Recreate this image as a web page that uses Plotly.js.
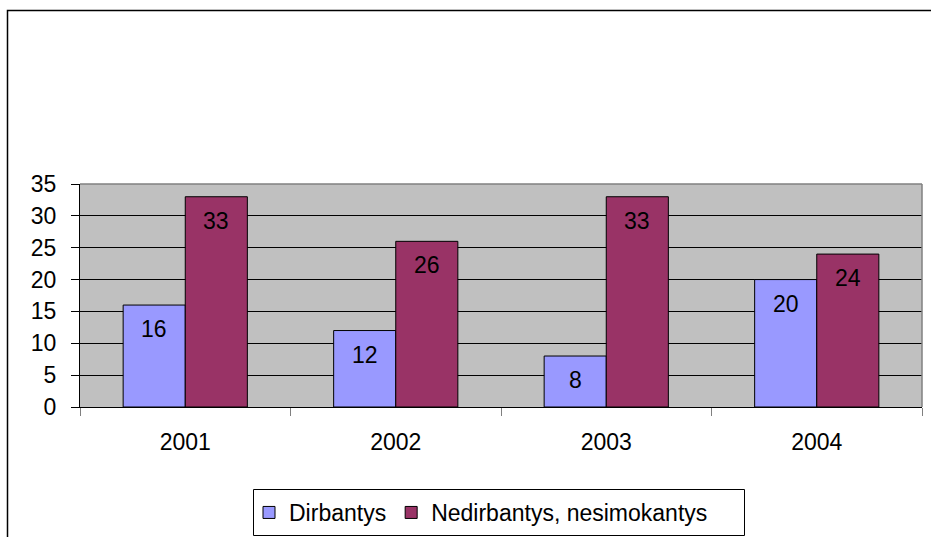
<!DOCTYPE html>
<html>
<head>
<meta charset="utf-8">
<script src="https://cdn.plot.ly/plotly-3.0.1.min.js"></script>
<style>
html,body{margin:0;padding:0;background:#fff;}
#chart{width:931px;height:537px;}
</style>
</head>
<body>
<div id="chart"></div>
<script>
const years = ['2001', '2002', '2003', '2004'];
const dirbantys = [16, 12, 8, 20];
const nedirbantys = [33, 26, 33, 24];
const seriesNames = ['Dirbantys', 'Nedirbantys, nesimokantys'];
const yTicks = [0, 5, 10, 15, 20, 25, 30, 35];

const FONT = 'Liberation Sans, Arial, sans-serif';
const FS = 23;
const W = 931, H = 537;
const colors = ['#9999FF', '#993366'];
const seriesVals = [dirbantys, nedirbantys];

const traces = seriesVals.map((vals, i) => ({
  type: 'bar',
  name: seriesNames[i],
  x: years,
  y: vals,
  marker: {color: colors[i], line: {color: '#000', width: 1}},
  hoverinfo: 'skip'
}));

const barPx = 31;
const annotations = [];
seriesVals.forEach((vals, i) => {
  vals.forEach((v, j) => {
    annotations.push({
      x: j, y: v, xref: 'x', yref: 'y',
      text: String(v), showarrow: false,
      xshift: i === 0 ? -barPx : barPx, yshift: -24,
      font: {family: FONT, size: FS, color: '#000'}
    });
  });
});

const layout = {
  width: W, height: H,
  margin: {l: 80, r: 9, t: 184, b: 130},
  paper_bgcolor: '#fff',
  plot_bgcolor: '#C0C0C0',
  barmode: 'group',
  bargap: 0.41,
  bargroupgap: 0,
  font: {family: FONT, size: FS, color: '#000'},
  showlegend: true,
  legend: {
    orientation: 'h',
    xref: 'container', yref: 'container',
    x: 249 / W, xanchor: 'left',
    y: 1 - 491 / H, yanchor: 'top',
    borderwidth: 0,
    bgcolor: 'rgba(0,0,0,0)',
    font: {family: FONT, size: FS, color: '#000'},
    itemwidth: 30,
    traceorder: 'normal'
  },
  xaxis: {
    type: 'category',
    range: [-0.5, years.length - 0.5],
    autorange: false,
    automargin: false,
    tickangle: 0,
    showgrid: false,
    showline: true, linecolor: '#000', linewidth: 1,
    ticks: 'outside', tickson: 'boundaries', ticklen: 8, tickcolor: '#808080',
    ticklabelstandoff: 14,
    tickfont: {family: FONT, size: FS, color: '#000'},
    fixedrange: true
  },
  yaxis: {
    range: [0, 35],
    autorange: false,
    automargin: false,
    tickvals: yTicks,
    ticktext: yTicks.map(String),
    showgrid: true, gridcolor: '#000', gridwidth: 1,
    showline: true, linecolor: '#000', linewidth: 1,
    ticks: 'outside', ticklen: 8, tickcolor: '#000',
    ticklabelstandoff: 10,
    zeroline: false,
    tickfont: {family: FONT, size: FS, color: '#000'},
    fixedrange: true
  },
  shapes: [
    {type: 'line', xref: 'paper', yref: 'paper', x0: 0, x1: 1, y0: 1, y1: 1,
     line: {color: '#808080', width: 1.5}, layer: 'above'},
    {type: 'line', xref: 'paper', yref: 'paper', x0: 1, x1: 1, y0: 0, y1: 1,
     line: {color: '#808080', width: 1.5}, layer: 'above'},
    {type: 'rect', xref: 'paper', yref: 'paper',
     x0: (7.5 - 80) / 842, x1: 2, y0: -2, y1: (407 - 10.5) / 223,
     line: {color: '#000', width: 1.5}, fillcolor: 'rgba(0,0,0,0)', layer: 'below'},
    {type: 'rect', xref: 'paper', yref: 'paper',
     x0: (253.5 - 80) / 842, x1: (744.5 - 80) / 842,
     y0: (407 - 535.5) / 223, y1: (407 - 489.5) / 223,
     line: {color: '#000', width: 1}, fillcolor: '#fff', layer: 'below'}
  ],
  annotations: annotations
};

Plotly.newPlot('chart', traces, layout, {displayModeBar: false, staticPlot: true});
</script>
</body>
</html>
